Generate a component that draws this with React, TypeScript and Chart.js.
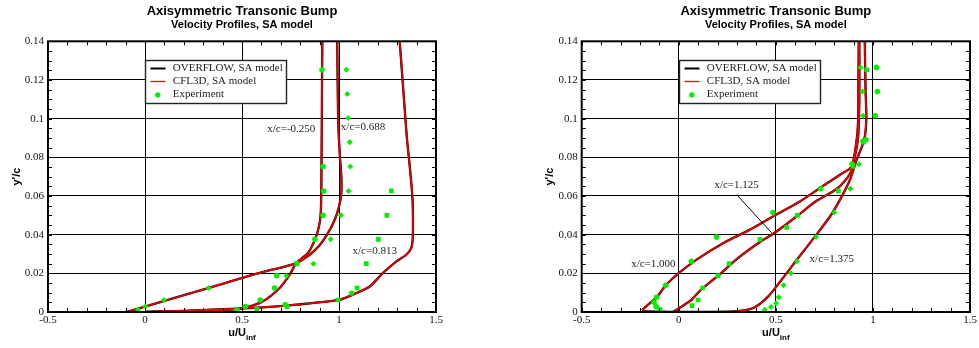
import React, { useEffect, useRef } from 'react';
import { Chart, registerables } from 'chart.js';

Chart.register(...registerables);

// ---------- text ----------
const TITLE = 'Axisymmetric Transonic Bump';
const SUBTITLE = 'Velocity Profiles, SA model';
const LEGEND_LABELS = ['OVERFLOW, SA model', 'CFL3D, SA model', 'Experiment'];
const X_TITLE_MAIN = 'u/U';
const X_TITLE_SUB = 'inf';
const Y_TITLE = "y'/c";

// ---------- tick labels ----------
const X_TICKS = [-0.5, 0, 0.5, 1, 1.5];
const Y_TICKS = [0, 0.02, 0.04, 0.06, 0.08, 0.1, 0.12, 0.14];

// ---------- left panel: CFD profiles ----------
const L_m0250_u = [0, 0.2, 0.437, 0.523, 0.608, 0.694, 0.746, 0.78, 0.84, 0.876, 0.897, 0.906, 0.909, 0.911, 0.914];
const L_m0250_y = [0, 0.0004, 0.0012, 0.0024, 0.0055, 0.0124, 0.0193, 0.0253, 0.0305, 0.0374, 0.0443, 0.0512, 0.065, 0.093, 0.14];

const L_0688_u = [-0.096, 0.0, 0.33, 0.6, 0.72, 0.78, 0.849, 0.9, 0.943, 0.978, 1.0, 1.012, 1.012, 1.005, 0.998, 0.994, 0.991];
const L_0688_y = [0, 0.0028, 0.0125, 0.0205, 0.0235, 0.0253, 0.0296, 0.0345, 0.0408, 0.0477, 0.0546, 0.0615, 0.07, 0.08, 0.093, 0.11, 0.14];

const L_0813_u = [0, 0.2, 0.437, 0.608, 0.78, 1.004, 1.09, 1.158, 1.227, 1.296, 1.347, 1.372, 1.38, 1.381, 1.378, 1.365, 1.35, 1.335, 1.313];
const L_0813_y = [0, 0.0006, 0.0016, 0.0024, 0.0038, 0.0064, 0.0098, 0.0132, 0.0202, 0.0262, 0.0296, 0.033, 0.038, 0.05, 0.06, 0.075, 0.09, 0.11, 0.14];

// ---------- left panel: experiment ----------
const L_expCircle_u = [0.912, 0.918, 0.921, 0.918, 0.876, 0.783, 0.679, 0.668, 0.594, 0.517, 0.474];
const L_expCircle_y = [0.1253, 0.0752, 0.0626, 0.05, 0.0376, 0.025, 0.0188, 0.0124, 0.0062, 0.0028, 0.0012];

const L_expDiamond_u = [1.038, 1.043, 1.048, 1.055, 1.058, 1.05, 1.01, 0.957, 0.868, 0.729, 0.328, 0.098, 0.002, -0.036];
const L_expDiamond_y = [0.1253, 0.1128, 0.1003, 0.0878, 0.0752, 0.0626, 0.05, 0.0376, 0.025, 0.0188, 0.0124, 0.0062, 0.0028, 0.0012];

const L_expSquare_u = [1.27, 1.247, 1.203, 1.141, 1.093, 1.065, 0.995, 0.732, 0.723, 0.576];
const L_expSquare_y = [0.0626, 0.05, 0.0376, 0.025, 0.0124, 0.0098, 0.0062, 0.0028, 0.0038, 0.0012];

// ---------- right panel: CFD profiles ----------
const R_1000_u = [0, -0.1, -0.175, -0.186, -0.15, -0.114, -0.067, 0.001, 0.092, 0.23, 0.367, 0.5, 0.624, 0.727, 0.83, 0.89, 0.916, 0.924, 0.925, 0.927];
const R_1000_y = [0, 0.0002, 0.0004, 0.0012, 0.0045, 0.0076, 0.0138, 0.0202, 0.0271, 0.0357, 0.0426, 0.0503, 0.0572, 0.0641, 0.071, 0.0753, 0.089, 0.0994, 0.115, 0.14];

const R_1125_u = [0, -0.028, 0.0, 0.04, 0.067, 0.109, 0.204, 0.3, 0.418, 0.487, 0.556, 0.61, 0.71, 0.818, 0.882, 0.907, 0.924, 0.93, 0.93];
const R_1125_y = [0, 0.0002, 0.0018, 0.0045, 0.0064, 0.011, 0.0189, 0.0275, 0.0362, 0.0405, 0.0455, 0.0497, 0.0575, 0.064, 0.0715, 0.0804, 0.0908, 0.11, 0.14];

const R_1375_u = [0, 0.11, 0.281, 0.384, 0.461, 0.53, 0.608, 0.702, 0.779, 0.83, 0.882, 0.916, 0.955, 0.966, 0.962, 0.958];
const R_1375_y = [0, 0.0001, 0.0003, 0.0021, 0.0081, 0.0167, 0.027, 0.0391, 0.0494, 0.058, 0.0684, 0.0787, 0.089, 0.1, 0.115, 0.14];

// ---------- right panel: experiment ----------
const R_expCircle_u = [1.019, 1.023, 1.012, 0.964, 0.892, 0.731, 0.485, 0.195, 0.065, -0.067, -0.114, -0.127, -0.117, -0.097];
const R_expCircle_y = [0.1265, 0.114, 0.1015, 0.0891, 0.0765, 0.0638, 0.0514, 0.0388, 0.0262, 0.0138, 0.0076, 0.005, 0.0028, 0.0012];

const R_expSquare_u = [0.968, 0.951, 0.897, 0.822, 0.611, 0.556, 0.418, 0.259, 0.202, 0.123, 0.099, 0.068];
const R_expSquare_y = [0.1253, 0.0878, 0.0753, 0.0626, 0.05, 0.0438, 0.0376, 0.025, 0.0188, 0.0124, 0.0062, 0.0033];

const R_expDiamond_u = [0.937, 0.946, 0.949, 0.946, 0.928, 0.884, 0.801, 0.707, 0.609, 0.578, 0.54, 0.515, 0.501, 0.475, 0.443];
const R_expDiamond_y = [0.1265, 0.114, 0.1015, 0.0884, 0.0764, 0.0638, 0.0514, 0.0388, 0.0262, 0.02, 0.0138, 0.0076, 0.0045, 0.0026, 0.0012];

// ---------- annotation texts ----------
const L_LABEL_TEXT = ['x/c=-0.250', 'x/c=0.688', 'x/c=0.813'];
const L_LABEL_U = [0.754, 1.124, 1.184];
const L_LABEL_Y = [0.0946, 0.0955, 0.0314];

const R_LABEL_TEXT = ['x/c=1.000', 'x/c=1.125', 'x/c=1.375'];
const R_LABEL_U = [-0.131, 0.298, 0.788];
const R_LABEL_Y = [0.0248, 0.0655, 0.0272];

const R_LEADER_U = [0.298, 0.479];
const R_LEADER_Y = [0.0607, 0.0409];

// legend box placement (data coordinates)
const LEGEND_BOX = { u0: 0.0, u1: 0.725, y0: 0.1303, y1: 0.1081 };

type Pt = { x: number; y: number };
const zip = (u: number[], y: number[]): Pt[] => u.map((v, i) => ({ x: v, y: y[i] }));

interface Panel {
  curves: { u: number[]; y: number[] }[];
  exp: { u: number[]; y: number[]; style: string; r: number }[];
  labels: { text: string[]; u: number[]; y: number[] };
  leader?: { u: number[]; y: number[] };
}

const GREEN = '#00f000';
const RED = '#e80000';

const leftPanel: Panel = {
  curves: [
    { u: L_m0250_u, y: L_m0250_y },
    { u: L_0688_u, y: L_0688_y },
    { u: L_0813_u, y: L_0813_y },
  ],
  exp: [
    { u: L_expCircle_u, y: L_expCircle_y, style: 'circle', r: 2.8 },
    { u: L_expDiamond_u, y: L_expDiamond_y, style: 'rectRot', r: 3 },
    { u: L_expSquare_u, y: L_expSquare_y, style: 'rect', r: 3.3 },
  ],
  labels: { text: L_LABEL_TEXT, u: L_LABEL_U, y: L_LABEL_Y },
};

const rightPanel: Panel = {
  curves: [
    { u: R_1000_u, y: R_1000_y },
    { u: R_1125_u, y: R_1125_y },
    { u: R_1375_u, y: R_1375_y },
  ],
  exp: [
    { u: R_expCircle_u, y: R_expCircle_y, style: 'circle', r: 2.8 },
    { u: R_expSquare_u, y: R_expSquare_y, style: 'rect', r: 3.3 },
    { u: R_expDiamond_u, y: R_expDiamond_y, style: 'rectRot', r: 3 },
  ],
  labels: { text: R_LABEL_TEXT, u: R_LABEL_U, y: R_LABEL_Y },
  leader: { u: R_LEADER_U, y: R_LEADER_Y },
};

function decorPlugin(panel: Panel) {
  return {
    id: 'decor',
    afterDraw(chart: any) {
      const { ctx, chartArea: a, scales } = chart;
      const xs = scales.x;
      const ys = scales.y;
      ctx.save();

      // minor ticks, inward on all four sides
      ctx.strokeStyle = '#000';
      ctx.lineWidth = 1;
      ctx.beginPath();
      for (let i = 0; i <= 20; i++) {
        const px = Math.round(xs.getPixelForValue(-0.5 + i * 0.1)) + 0.5;
        ctx.moveTo(px, a.bottom);
        ctx.lineTo(px, a.bottom - 4);
        ctx.moveTo(px, a.top);
        ctx.lineTo(px, a.top + 4);
      }
      for (let i = 0; i <= 28; i++) {
        const py = Math.round(ys.getPixelForValue(i * 0.005)) + 0.5;
        ctx.moveTo(a.left, py);
        ctx.lineTo(a.left + 4, py);
        ctx.moveTo(a.right, py);
        ctx.lineTo(a.right - 4, py);
      }
      ctx.stroke();

      // frame
      ctx.lineWidth = 2;
      ctx.strokeRect(a.left, a.top, a.right - a.left, a.bottom - a.top);

      // leader line
      if (panel.leader) {
        ctx.lineWidth = 1;
        ctx.strokeStyle = '#000';
        ctx.beginPath();
        ctx.moveTo(xs.getPixelForValue(panel.leader.u[0]), ys.getPixelForValue(panel.leader.y[0]));
        ctx.lineTo(xs.getPixelForValue(panel.leader.u[1]), ys.getPixelForValue(panel.leader.y[1]));
        ctx.stroke();
      }

      // annotation labels
      ctx.font = '11px "Liberation Serif"';
      ctx.fillStyle = '#222';
      ctx.textAlign = 'center';
      ctx.textBaseline = 'middle';
      panel.labels.text.forEach((t, i) => {
        ctx.fillText(t, xs.getPixelForValue(panel.labels.u[i]), ys.getPixelForValue(panel.labels.y[i]));
      });

      // legend box
      const bx0 = Math.round(xs.getPixelForValue(LEGEND_BOX.u0)) + 0.5;
      const bx1 = Math.round(xs.getPixelForValue(LEGEND_BOX.u1)) + 0.5;
      const by0 = Math.round(ys.getPixelForValue(LEGEND_BOX.y0)) + 0.5;
      const by1 = Math.round(ys.getPixelForValue(LEGEND_BOX.y1)) + 0.5;
      ctx.fillStyle = '#fff';
      ctx.fillRect(bx0, by0, bx1 - bx0, by1 - by0);
      ctx.strokeStyle = '#222';
      ctx.lineWidth = 1.4;
      ctx.strokeRect(bx0, by0, bx1 - bx0, by1 - by0);
      const rows = [by0 + 8, by0 + 21, by0 + 33.4];
      ctx.lineWidth = 2;
      ctx.strokeStyle = '#000';
      ctx.beginPath();
      ctx.moveTo(bx0 + 5, rows[0]);
      ctx.lineTo(bx0 + 20, rows[0]);
      ctx.stroke();
      ctx.lineWidth = 1.3;
      ctx.strokeStyle = '#ff0000';
      ctx.beginPath();
      ctx.moveTo(bx0 + 5, rows[1]);
      ctx.lineTo(bx0 + 20, rows[1]);
      ctx.stroke();
      ctx.fillStyle = GREEN;
      ctx.beginPath();
      ctx.arc(bx0 + 12.3, rows[2] + 1, 2.6, 0, Math.PI * 2);
      ctx.fill();
      ctx.fillStyle = '#222';
      ctx.textAlign = 'left';
      ctx.textBaseline = 'middle';
      LEGEND_LABELS.forEach((t, i) => ctx.fillText(t, bx0 + 27.3, rows[i]));

      // axis titles
      ctx.fillStyle = '#000';
      const cx = (a.left + a.right) / 2;
      ctx.font = 'bold 11px "Liberation Sans"';
      const w1 = ctx.measureText(X_TITLE_MAIN).width;
      ctx.font = 'bold 8px "Liberation Sans"';
      const w2 = ctx.measureText(X_TITLE_SUB).width;
      const sx = cx - (w1 + w2) / 2;
      ctx.textAlign = 'left';
      ctx.textBaseline = 'alphabetic';
      ctx.font = 'bold 11px "Liberation Sans"';
      ctx.fillText(X_TITLE_MAIN, sx, 336);
      ctx.font = 'bold 8px "Liberation Sans"';
      ctx.fillText(X_TITLE_SUB, sx + w1, 340);

      ctx.translate(a.left - 31.3, (a.top + a.bottom) / 2);
      ctx.rotate(-Math.PI / 2);
      ctx.font = 'bold 11px "Liberation Sans"';
      ctx.textAlign = 'center';
      ctx.textBaseline = 'middle';
      ctx.fillText(Y_TITLE, 0, 0);

      ctx.restore();
    },
  };
}

function buildConfig(panel: Panel, padLeft: number, padRight: number): any {
  const datasets: any[] = [];
  panel.exp.forEach((e) => {
    datasets.push({
      label: LEGEND_LABELS[2],
      data: zip(e.u, e.y),
      showLine: false,
      pointStyle: e.style,
      pointRadius: e.r,
      backgroundColor: GREEN,
      borderColor: GREEN,
      borderWidth: 0,
      order: 0,
    });
  });
  panel.curves.forEach((c) => {
    datasets.push({
      label: LEGEND_LABELS[1],
      data: zip(c.u, c.y),
      showLine: true,
      borderColor: RED,
      borderWidth: 1.7,
      pointRadius: 0,
      tension: 0.25,
      fill: false,
      order: 1,
    });
    datasets.push({
      label: LEGEND_LABELS[0],
      data: zip(c.u, c.y),
      showLine: true,
      borderColor: '#000',
      borderWidth: 2.3,
      pointRadius: 0,
      tension: 0.25,
      fill: false,
      order: 2,
    });
  });

  const tickFont = { family: 'Liberation Serif', size: 11 };
  return {
    type: 'scatter',
    data: { datasets },
    options: {
      animation: false,
      responsive: false,
      events: [],
      layout: { padding: { left: padLeft, right: padRight, top: 0, bottom: 0 } },
      plugins: {
        legend: { display: false },
        tooltip: { enabled: false },
        title: {
          display: true,
          text: TITLE,
          fullSize: false,
          color: '#000',
          font: { family: 'Liberation Sans', size: 13, weight: 'bold', lineHeight: 1.1 },
          padding: { top: 3.8, bottom: 0 },
        },
        subtitle: {
          display: true,
          text: SUBTITLE,
          fullSize: false,
          color: '#000',
          font: { family: 'Liberation Sans', size: 11, weight: 'bold', lineHeight: 1.2 },
          padding: { top: 0.5, bottom: 9.5 },
        },
      },
      scales: {
        x: {
          type: 'linear',
          min: -0.5,
          max: 1.5,
          afterBuildTicks: (s: any) => {
            s.ticks = X_TICKS.map((v) => ({ value: v }));
          },
          afterFit: (s: any) => {
            s.height = 36;
          },
          grid: { color: '#000', lineWidth: 1, drawTicks: false },
          border: { display: false },
          ticks: {
            font: tickFont,
            color: '#111',
            padding: 2,
            autoSkip: false,
            maxRotation: 0,
            callback: (v: any) => String(v),
          },
        },
        y: {
          type: 'linear',
          min: 0,
          max: 0.14,
          afterBuildTicks: (s: any) => {
            s.ticks = Y_TICKS.map((v) => ({ value: v }));
          },
          afterFit: (s: any) => {
            s.width = 48;
          },
          grid: { color: '#000', lineWidth: 1, drawTicks: false },
          border: { display: false },
          ticks: {
            font: tickFont,
            color: '#111',
            padding: 4,
            autoSkip: false,
            callback: (v: any) => String(v),
          },
        },
      },
    },
    plugins: [decorPlugin(panel)],
  };
}

function PanelChart({ panel, left, width, padLeft, padRight }: { panel: Panel; left: number; width: number; padLeft: number; padRight: number }) {
  const ref = useRef<HTMLCanvasElement | null>(null);
  useEffect(() => {
    if (!ref.current) return;
    const chart = new Chart(ref.current, buildConfig(panel, padLeft, padRight));
    return () => chart.destroy();
  }, [panel, padLeft, padRight]);
  return (
    <canvas
      ref={ref}
      width={width}
      height={348}
      style={{ position: 'absolute', left, top: 0, width, height: 348 }}
    />
  );
}

export default function App() {
  return (
    <div style={{ position: 'fixed', left: 0, top: 0, width: 979, height: 348, background: '#fff', overflow: 'hidden' }}>
      <PanelChart panel={leftPanel} left={0} width={490} padLeft={0} padRight={54} />
      <PanelChart panel={rightPanel} left={490} width={489} padLeft={43.7} padRight={9} />
    </div>
  );
}
